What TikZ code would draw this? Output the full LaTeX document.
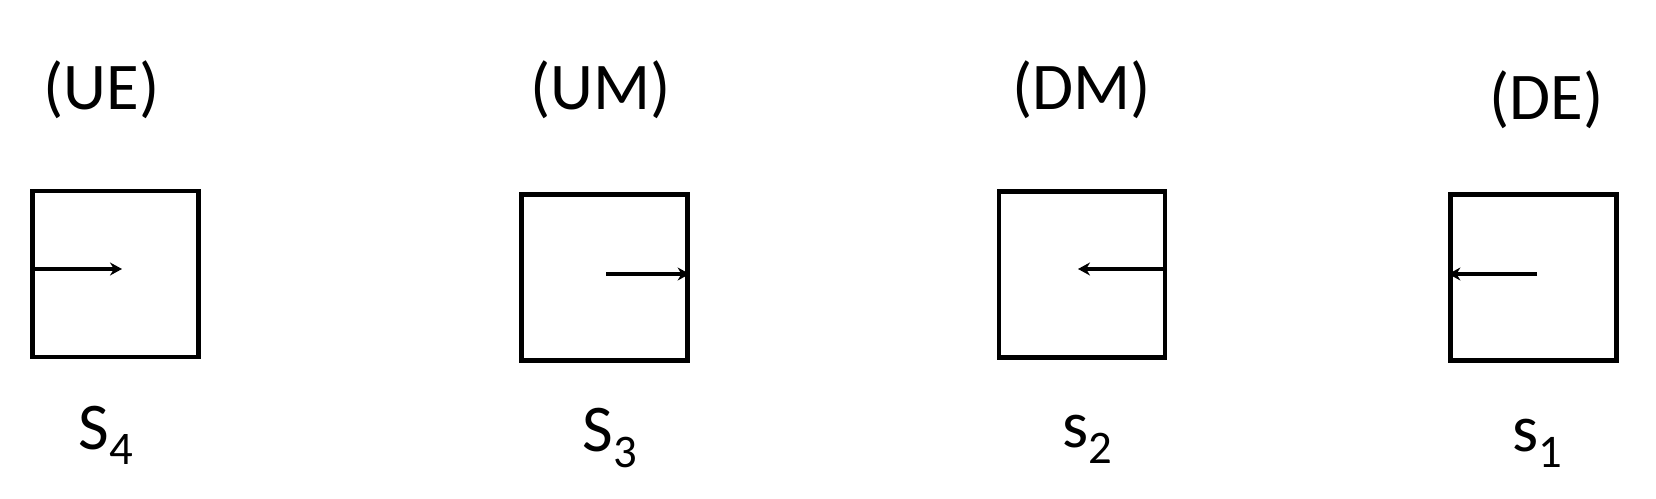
\documentclass[tikz,border=0pt]{standalone}
\usepackage{fontspec}
\setmainfont{Carlito}
\usetikzlibrary{arrows.meta}
\begin{document}
\begin{tikzpicture}[x=0.02cm,y=-0.02cm,
        cell/.style={draw,line width=0.085cm,minimum width=3.32cm,minimum height=3.32cm,inner sep=0pt},
        lbl/.style={font=\fontsize{38}{44}\selectfont,anchor=base west,inner sep=0pt},
        move/.style={-{Stealth[length=0.24cm,width=0.26cm]},line width=0.07cm}]
            \useasboundingbox (0,0) rectangle (1656,499);
            % boxes, left to right
            \node[cell] (b4) at (115.5,274){};
            \node[cell] (b3) at (604.5,277.5){};
            \node[cell] (b2) at (1082,274.5){};
            \node[cell] (b1) at (1533.5,277.5){};
            % names above
            \node[lbl] (ue) at (43,110){(UE)};
            \node[lbl] (um) at (530,110){(UM)};
            \node[lbl] (dm) at (1012,110){(DM)};
            \node[lbl] (de) at (1489,120){(DE)};
            % states below
            \node[lbl] (s4) at (78,450){S\textsubscript{4}};
            \node[lbl] (s3) at (582,452){S\textsubscript{3}};
            \node[lbl] (s2) at (1062,448){s\textsubscript{2}};
            \node[lbl] (s1) at (1512,452){s\textsubscript{1}};
            % arrows
            \coordinate (t4) at (122,269);
            \coordinate (f3) at (606,274);
            \coordinate (t2) at (1078,269);
            \coordinate (f1) at (1537,274);
            \draw[move] (b4.west |- t4)--(t4);
            \draw[move] (f3)--(b3.east |- f3);
            \draw[move] (b2.east |- t2)--(t2);
            \draw[move] (f1)--(b1.west |- f1);
        \end{tikzpicture}
\end{document}
